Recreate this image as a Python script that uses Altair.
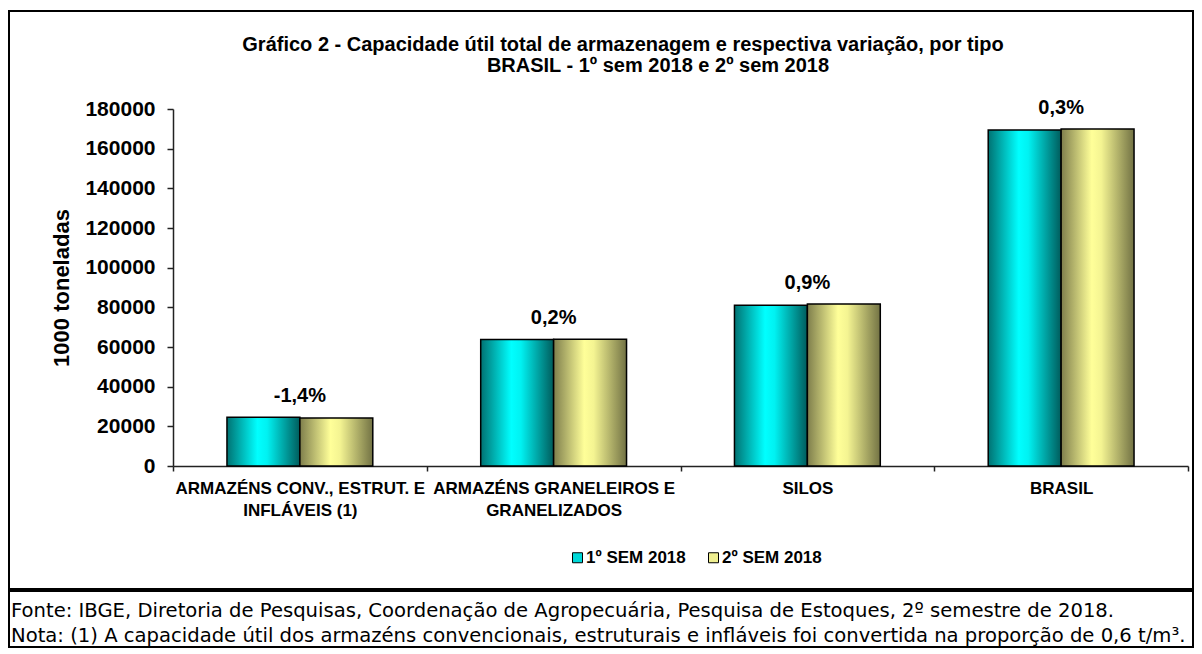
import altair as alt
import pandas as pd

# ---- data ----
categorias = [
    "ARMAZÉNS CONV., ESTRUT. E\nINFLÁVEIS (1)",
    "ARMAZÉNS GRANELEIROS E\nGRANELIZADOS",
    "SILOS",
    "BRASIL",
]
series = ["1º SEM 2018", "2º SEM 2018"]
sem1 = [24600, 63800, 81000, 169400]
sem2 = [24250, 63950, 81730, 169930]
variacao = ["-1,4%", "0,2%", "0,9%", "0,3%"]
y_ticks = [0, 20000, 40000, 60000, 80000, 100000, 120000, 140000, 160000, 180000]
titulo_1 = "Gráfico 2 - Capacidade útil total de armazenagem e respectiva variação, por tipo"
titulo_2 = "BRASIL - 1º sem 2018 e 2º sem 2018"
notas = [
    "Fonte: IBGE, Diretoria de Pesquisas, Coordenação de Agropecuária, Pesquisa de Estoques, 2º semestre de 2018.",
    "Nota: (1) A capacidade útil dos armazéns convencionais, estruturais e infláveis foi convertida na proporção de 0,6 t/m³.",
]

# ---- tables ----
rows = []
for c, a, b in zip(categorias, sem1, sem2):
    rows.append({"categoria": c, "serie": series[0], "valor": a})
    rows.append({"categoria": c, "serie": series[1], "valor": b})
df = pd.DataFrame(rows)
df_var = pd.DataFrame({
    "categoria": categorias,
    "valor": [max(a, b) for a, b in zip(sem1, sem2)],
    "variacao": variacao,
})
df_notas = pd.DataFrame({"linha": list(range(len(notas))), "texto": notas})

FONT = "Liberation Sans"
W = 1184
H = 578

x_enc = alt.X(
    "categoria:N",
    sort=categorias,
    title=None,
    scale=alt.Scale(domain=categorias, range=[164, 1179], paddingInner=0, paddingOuter=0),
    axis=alt.Axis(
        orient="bottom", offset=-123, tickBand="extent", tickSize=5,
        labelExpr="split(datum.label, '\\n')", labelAngle=0,
        labelFont=FONT, labelFontSize=17, labelFontWeight="bold", labelColor="black",
        labelLineHeight=22, labelPadding=9, labelLimit=400, labelOverlap=False,
        labelBound=False, domainColor="#222", tickColor="#222", domainWidth=1.5, tickWidth=1.5,
    ),
)
y_enc = alt.Y(
    "valor:Q",
    title="1000 toneladas",
    scale=alt.Scale(domain=[0, 180000], range=[455, 98], nice=False, zero=True),
    axis=alt.Axis(
        orient="left", offset=-164, values=y_ticks, format="d", grid=False,
        tickSize=6, labelPadding=12, labelFont=FONT, labelFontSize=21,
        labelFontWeight="bold", labelColor="black",
        titleFont=FONT, titleFontSize=22, titleFontWeight="bold", titleColor="black",
        titlePadding=11, domainColor="#222", tickColor="#222", domainWidth=1.5, tickWidth=1.5,
    ),
)
xoff = alt.XOffset("serie:N", scale=alt.Scale(domain=series, paddingInner=0, paddingOuter=0.74))

grad_teal = alt.LinearGradient(
    gradient="linear", x1=0, x2=1, y1=0, y2=0,
    stops=[
        alt.GradientStop(offset=0, color="#007272"),
        alt.GradientStop(offset=0.42, color="#00ffff"),
        alt.GradientStop(offset=0.55, color="#00f2f2"),
        alt.GradientStop(offset=1, color="#005c5c"),
    ],
)
grad_yel = alt.LinearGradient(
    gradient="linear", x1=0, x2=1, y1=0, y2=0,
    stops=[
        alt.GradientStop(offset=0, color="#7e7e4c"),
        alt.GradientStop(offset=0.42, color="#ffff99"),
        alt.GradientStop(offset=0.55, color="#f4f492"),
        alt.GradientStop(offset=1, color="#727244"),
    ],
)

base = alt.Chart(df)
b1 = base.transform_filter(alt.datum.serie == series[0]).mark_bar(
    fill=grad_teal, stroke="black", strokeWidth=1.5
).encode(x=x_enc, xOffset=xoff, y=y_enc)
b2 = base.transform_filter(alt.datum.serie == series[1]).mark_bar(
    fill=grad_yel, stroke="black", strokeWidth=1.5
).encode(x=x_enc, xOffset=xoff, y=y_enc)

legenda = base.transform_filter("false").mark_square(filled=True).encode(
    color=alt.Color(
        "serie:N",
        scale=alt.Scale(domain=series, range=["#00d8d8", "#efef90"]),
        legend=alt.Legend(
            title=None, orient="none", legendX=560, legendY=538, direction="horizontal",
            symbolType="square", symbolSize=100, symbolStrokeColor="black",
            symbolStrokeWidth=1, symbolOpacity=1, labelFont=FONT, labelFontSize=17,
            labelFontWeight="bold", labelColor="black", labelOffset=0, columnPadding=19,
        ),
    )
)

rotulos = alt.Chart(df_var).mark_text(
    dy=-15, font=FONT, fontSize=20, fontWeight="bold", color="black", baseline="alphabetic"
).encode(x=x_enc, y=y_enc, text="variacao:N")

grafico = alt.layer(b1, b2, rotulos, legenda).properties(
    width=W, height=H,
    title=alt.TitleParams(
        text=titulo_2, anchor="middle", frame="group", offset=-65, dx=57,
        font=FONT, fontSize=20, fontWeight="bold", color="black",
    ),
)

rodape = alt.Chart(df_notas).mark_text(
    align="left", baseline="middle", font="DejaVu Sans", fontSize=19.6, color="black", clip=True
).encode(
    x=alt.value(2),
    y=alt.Y("linha:O", axis=None, scale=alt.Scale(range=[20, 45], padding=0)),
    text="texto:N",
).properties(width=W, height=56)

chart = alt.vconcat(grafico, rodape, spacing=0).properties(
    padding={"left": 0, "top": 2, "right": 0, "bottom": 0},
    title=alt.TitleParams(
        text=titulo_1, anchor="middle", frame="group", offset=-45, dx=22,
        font=FONT, fontSize=20, fontWeight="bold", color="black",
    ),
).configure_view(stroke="black", strokeWidth=2)

chart.save("out.html", embed_options={"renderer": "svg", "actions": False})
